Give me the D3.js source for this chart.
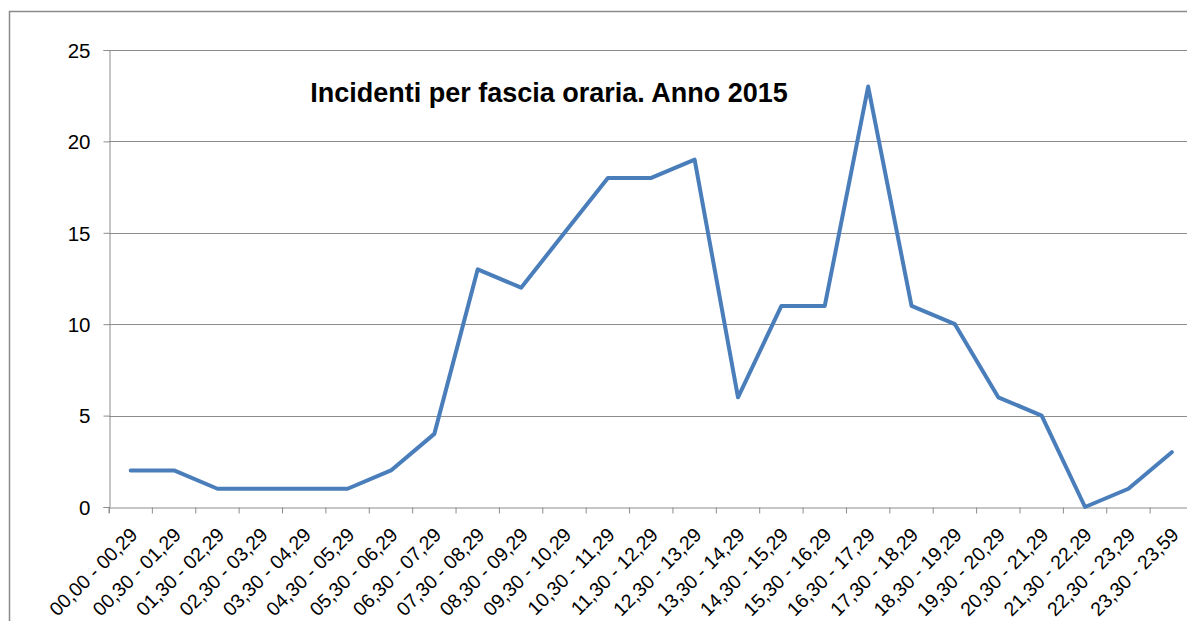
<!DOCTYPE html>
<html><head><meta charset="utf-8">
<script src="https://cdn.jsdelivr.net/npm/d3@7"></script>
<style>html,body{margin:0;padding:0;background:#fff;overflow:hidden}</style>
</head><body>
<svg id="c" width="1187" height="621"></svg>
<script>
const categories = ["00,00 - 00,29","00,30 - 01,29","01,30 - 02,29","02,30 - 03,29","03,30 - 04,29","04,30 - 05,29","05,30 - 06,29","06,30 - 07,29","07,30 - 08,29","08,30 - 09,29","09,30 - 10,29","10,30 - 11,29","11,30 - 12,29","12,30 - 13,29","13,30 - 14,29","14,30 - 15,29","15,30 - 16,29","16,30 - 17,29","17,30 - 18,29","18,30 - 19,29","19,30 - 20,29","20,30 - 21,29","21,30 - 22,29","22,30 - 23,29","23,30 - 23,59"];
const values = [2,2,1,1,1,1,2,4,13,12,15,18,18,19,6,11,11,23,11,10,6,5,0,1,3];
const yTicks = [0,5,10,15,20,25];
const title = "Incidenti per fascia oraria. Anno 2015";

const svg = d3.select("#c");
const pLeft = 109, pRight = 1193.5, pTop = 50, pBottom = 507;
const font = "Arial, 'Liberation Sans', sans-serif";

svg.append("rect").attr("x",9.5).attr("y",11.5).attr("width",1300).attr("height",800)
  .attr("fill","#fff").attr("stroke","#8a8a8a").attr("stroke-width",1.5);

const x = d3.scaleBand().domain(categories).range([pLeft,pRight]).padding(0);
const y = d3.scaleLinear().domain([0,25]).range([pBottom,pTop]);

// gridlines
svg.append("g").selectAll("line").data(yTicks.filter(d=>d>0)).join("line")
  .attr("x1",pLeft).attr("x2",1187).attr("y1",d=>Math.round(y(d))+0.5).attr("y2",d=>Math.round(y(d))+0.5)
  .attr("stroke","#8c8c8c").attr("stroke-width",1);

// y axis
const ya = svg.append("g").attr("transform",`translate(${pLeft+0.5},0)`)
  .call(d3.axisLeft(y).tickValues(yTicks).tickSize(6).tickPadding(13).tickFormat(d3.format("d")));
ya.select(".domain").attr("stroke","#8c8c8c");
ya.selectAll(".tick line").attr("stroke","#8c8c8c");
ya.selectAll("text").attr("font-family",font).attr("font-size",20.5).attr("fill","#000").attr("dy","0.36em");

// x axis
const xa = svg.append("g").attr("transform",`translate(0,${pBottom+0.5})`)
  .call(d3.axisBottom(x).tickSize(6).tickSizeOuter(0).tickFormat(""));
xa.select(".domain").attr("stroke","#8c8c8c");
xa.selectAll(".tick line").attr("stroke","#8c8c8c").attr("transform",`translate(${-x.bandwidth()/2},0)`);
svg.append("line").attr("x1",pLeft+0.5).attr("x2",pLeft+0.5).attr("y1",pBottom).attr("y2",pBottom+6).attr("stroke","#8c8c8c");

svg.append("g").selectAll("text").data(categories).join("text")
  .attr("transform",d=>`translate(${x(d)+x.bandwidth()/2+8},${pBottom+29}) rotate(-45)`)
  .attr("text-anchor","end")
  .attr("font-family",font).attr("font-size",19.5).attr("fill","#000")
  .text(d=>d);

// line
svg.append("path").datum(values)
  .attr("fill","none").attr("stroke","#4a7ebb").attr("stroke-width",4).attr("stroke-linejoin","round").attr("stroke-linecap","round")
  .attr("d",d3.line().x((d,i)=>x(categories[i])+x.bandwidth()/2).y(d=>y(d)));

svg.append("text").attr("x",549).attr("y",101.5).attr("text-anchor","middle")
  .attr("font-family",font).attr("font-weight","bold").attr("font-size",27).attr("fill","#000")
  .text(title);
</script>
</body></html>
